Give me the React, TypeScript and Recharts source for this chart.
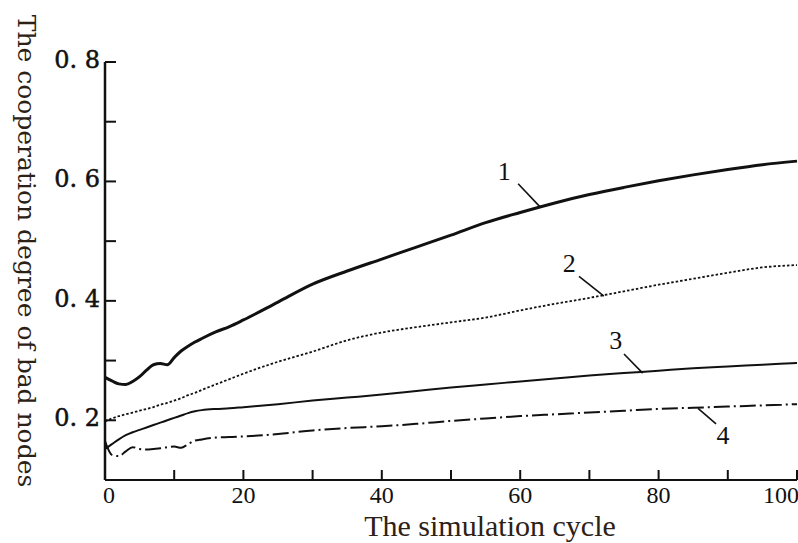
import { LineChart, Line, XAxis, YAxis, ReferenceLine, ReferenceDot } from 'recharts';

// simulation cycles sampled along the x axis
const cycles = [0, 1, 2, 3, 4, 5, 6, 7, 8, 9, 10, 11, 12, 13, 14, 16, 18, 20, 25, 30, 35, 40, 45, 50, 55, 60, 65, 70, 75, 80, 85, 90, 95, 100];

// cooperation degree of bad nodes, one array per curve
const curve1 = [0.272, 0.266, 0.261, 0.26, 0.265, 0.273, 0.284, 0.293, 0.295, 0.293, 0.305, 0.316, 0.324, 0.331, 0.337, 0.348, 0.357, 0.368, 0.398, 0.428, 0.45, 0.47, 0.49, 0.51, 0.531, 0.548, 0.564, 0.578, 0.59, 0.601, 0.611, 0.62, 0.628, 0.634];
const curve2 = [0.198, 0.203, 0.207, 0.21, 0.213, 0.216, 0.219, 0.222, 0.226, 0.229, 0.233, 0.237, 0.242, 0.246, 0.251, 0.26, 0.269, 0.278, 0.298, 0.315, 0.334, 0.347, 0.356, 0.364, 0.372, 0.384, 0.395, 0.405, 0.416, 0.427, 0.437, 0.447, 0.456, 0.46];
const curve3 = [0.152, 0.16, 0.168, 0.175, 0.18, 0.184, 0.188, 0.192, 0.196, 0.2, 0.204, 0.208, 0.212, 0.215, 0.217, 0.219, 0.22, 0.222, 0.227, 0.233, 0.238, 0.243, 0.249, 0.255, 0.26, 0.265, 0.27, 0.275, 0.279, 0.283, 0.287, 0.29, 0.293, 0.296];
const curve4 = [0.165, 0.142, 0.14, 0.148, 0.155, 0.152, 0.151, 0.152, 0.153, 0.155, 0.156, 0.154, 0.16, 0.166, 0.168, 0.171, 0.172, 0.173, 0.177, 0.183, 0.187, 0.19, 0.194, 0.199, 0.203, 0.207, 0.21, 0.213, 0.216, 0.219, 0.221, 0.223, 0.225, 0.227];

const xTicks = [0, 10, 20, 30, 40, 50, 60, 70, 80, 90, 100];
const xLabelled = [0, 20, 40, 60, 80, 100];
const yTicks = [0.1, 0.2, 0.3, 0.4, 0.5, 0.6, 0.7, 0.8];
const yLabelled = [0.2, 0.4, 0.6, 0.8];

// curve numbers with their leader lines, in data units
const curveNames = ['1', '2', '3', '4'];
const nameAt = [[57.7, 0.618], [67.1, 0.463], [73.8, 0.334], [89.3, 0.176]];
const leaderFrom = [[59.7, 0.596], [68.5, 0.441], [75.0, 0.311], [85.7, 0.22]];
const leaderTo = [[62.9, 0.557], [72.1, 0.408], [77.7, 0.279], [88.3, 0.194]];

const data = cycles.map((c, i) => ({
  cycle: c,
  s1: curve1[i],
  s2: curve2[i],
  s3: curve3[i],
  s4: curve4[i],
}));

const SERIF = '"Liberation Serif", "Times New Roman", serif';
const WIDE_SERIF = '"DejaVu Serif", serif';
const INK = '#111';
const LABEL_INK = '#2c2116';

// eslint-disable-next-line @typescript-eslint/no-explicit-any
function XTick({ x, y, payload }: any) {
  const v = payload.value;
  const show = xLabelled.includes(v);
  return (
    <g>
      {v !== 0 && <line x1={x} y1={y} x2={x} y2={y - 10} stroke={INK} strokeWidth={2} />}
      {show && (
        <text
          x={v === 100 ? x + 2 : v === 0 ? x + 4 : x}
          y={y + 23}
          textAnchor={v === 100 ? 'end' : 'middle'}
          fontFamily={SERIF}
          fontSize={24}
          fill={INK}
        >
          {v}
        </text>
      )}
    </g>
  );
}

// eslint-disable-next-line @typescript-eslint/no-explicit-any
function YTick({ x, y, payload }: any) {
  const v = payload.value;
  const show = yLabelled.some((t) => Math.abs(t - v) < 1e-6);
  return (
    <g>
      {Math.abs(v - 0.1) > 1e-6 && <line x1={x} y1={y} x2={x + 11} y2={y} stroke={INK} strokeWidth={2} />}
      {show && (
        <text
          x={x - 5}
          y={y + 6}
          textAnchor="end"
          fontFamily={WIDE_SERIF}
          fontSize={24}
          fill={INK}
          stroke={INK}
          strokeWidth={0.5}
        >
          {`0. ${Math.round(v * 10)}`}
        </text>
      )}
    </g>
  );
}

// eslint-disable-next-line @typescript-eslint/no-explicit-any
function XTitle({ viewBox }: any) {
  const cx = viewBox.x + viewBox.width / 2 + 39;
  return (
    <text x={cx} y={viewBox.y + 56} textAnchor="middle" fontFamily={SERIF} fontSize={30} fill={LABEL_INK}>
      The simulation cycle
    </text>
  );
}

// eslint-disable-next-line @typescript-eslint/no-explicit-any
function YTitle({ viewBox }: any) {
  const cx = 18;
  const cy = viewBox.y + viewBox.height / 2 - 20;
  return (
    <text
      x={cx}
      y={cy}
      transform={`rotate(90, ${cx}, ${cy})`}
      textAnchor="middle"
      fontFamily={WIDE_SERIF}
      fontSize={25}
      fill={LABEL_INK}
    >
      The cooperation degree of bad nodes
    </text>
  );
}

export default function App() {
  return (
    <div style={{ position: 'absolute', left: 0, top: 0, width: 798, height: 543, background: '#fff' }}>
      <LineChart width={798} height={543} data={data} margin={{ top: 62, right: 1, bottom: 0, left: 0 }}>
        <XAxis
          dataKey="cycle"
          type="number"
          domain={[0, 100]}
          ticks={xTicks}
          interval={0}
          tickSize={0}
          tickMargin={0}
          tickLine={false}
          axisLine={{ stroke: INK, strokeWidth: 2 }}
          height={63}
          tick={<XTick />}
          label={<XTitle />}
        />
        <YAxis
          type="number"
          domain={[0.1, 0.8]}
          ticks={yTicks}
          interval={0}
          allowDataOverflow
          tickSize={0}
          tickMargin={0}
          tickLine={false}
          axisLine={{ stroke: INK, strokeWidth: 2.5 }}
          width={105}
          tick={<YTick />}
          label={<YTitle />}
        />
        <Line type="monotone" dataKey="s1" stroke={INK} strokeWidth={3} dot={false} isAnimationActive={false} />
        <Line type="monotone" dataKey="s2" stroke={INK} strokeWidth={1.8} strokeDasharray="2.5 2" dot={false} isAnimationActive={false} />
        <Line type="monotone" dataKey="s3" stroke={INK} strokeWidth={2} dot={false} isAnimationActive={false} />
        <Line type="monotone" dataKey="s4" stroke={INK} strokeWidth={2} strokeDasharray="16 4 2 4" dot={false} isAnimationActive={false} />
        {curveNames.map((name, i) => (
          <ReferenceLine
            key={`leader-${name}`}
            segment={[
              { x: leaderFrom[i][0], y: leaderFrom[i][1] },
              { x: leaderTo[i][0], y: leaderTo[i][1] },
            ]}
            stroke={INK}
            strokeWidth={1.6}
            ifOverflow="visible"
          />
        ))}
        {curveNames.map((name, i) => (
          <ReferenceDot
            key={`name-${name}`}
            x={nameAt[i][0]}
            y={nameAt[i][1]}
            r={0}
            fill="none"
            stroke="none"
            label={{ value: name, position: 'center', fontSize: 26, fontFamily: SERIF, fill: INK }}
          />
        ))}
      </LineChart>
    </div>
  );
}
